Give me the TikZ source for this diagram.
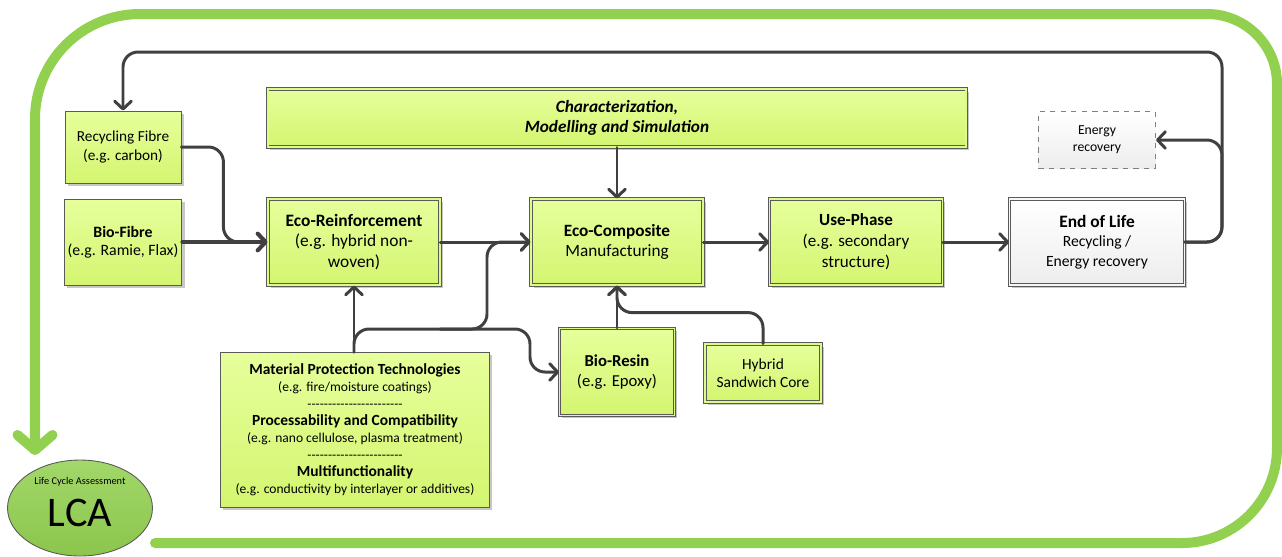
\documentclass[tikz,border=0pt]{standalone}
\usepackage{fontspec}
\setmainfont{Carlito}
\usetikzlibrary{arrows.meta, shapes.geometric, shadows}
\definecolor{lcagreen}{RGB}{146,208,80}
\definecolor{boxtop}{RGB}{230,255,155}
\definecolor{boxmid}{RGB}{221,252,135}
\definecolor{boxbot}{RGB}{212,245,112}
\definecolor{boxline}{RGB}{90,90,90}
\definecolor{connc}{RGB}{64,64,64}
\newcommand\sepdashes{\foreach \i in {1,...,23}{-\kern0pt}}
\begin{document}
\begin{tikzpicture}[x=0.02cm, y=-0.02cm,
    box/.style={draw=boxline, line width=0.5pt, top color=boxtop, bottom color=boxbot,
      align=center, inner sep=2pt, drop shadow={shadow xshift=1.5pt, shadow yshift=-1.5pt, fill=black, opacity=0.22}},
    dbox/.style={box, double=boxmid, double distance=1.1pt},
    conn/.style={draw=connc, line width=1.7pt, rounded corners=0.3cm, line cap=round,
      -{Straight Barb[length=4.5pt, width=9.5pt, round]}},
    lcaline/.style={draw=lcagreen, line width=5.7pt, line cap=round}]
  %tikz  ciclo di vita, eco-composito
  \useasboundingbox (0,0) rectangle (1282,556);
  % anello LCA
  \draw[lcaline] (155,543) [rounded corners=1.9cm] -- (1277,543) [rounded corners=1.4cm] -- (1277,14)
    [rounded corners=2.1cm] -- (35,14) -- (35,440);
  \draw[lcaline, -{Straight Barb[length=0.3cm, width=0.7cm, round]}] (35,430) -- (35,455);
  \node[ellipse, draw=boxline, line width=0.5pt, top color=lcagreen!85!white, bottom color=lcagreen!95!black,
    minimum width=2.9cm, minimum height=1.92cm] (lca) at (80,508) {};
  \node[font=\fontsize{5.9}{7}\selectfont, inner sep=0pt] (lcasub) at (80,482) {Life Cycle Assessment};
  \node[font=\fontsize{24}{24}\selectfont, inner sep=0pt] (lcatxt) at (80,513) {LCA};
  % nodi
  \node[box, minimum width=2.32cm, minimum height=1.44cm, font=\fontsize{8.7}{10.8}\selectfont] (recyc) at (123,147)
    {Recycling Fibre\\(e.g. carbon)};
  \node[box, minimum width=2.32cm, minimum height=1.72cm, font=\fontsize{9}{10.3}\selectfont] (biofib) at (123,242)
    {\textbf{Bio-Fibre}\\(e.g. Ramie, Flax)};
  \node[dbox, minimum width=3.44cm, minimum height=1.72cm, font=\fontsize{9.9}{11.9}\selectfont] (ecoreinf) at (354,242)
    {\textbf{Eco-Reinforcement}\\(e.g. hybrid non-\\woven)};
  \node[dbox, minimum width=13.98cm, minimum height=1.16cm, font=\fontsize{9.8}{11.4}\selectfont\bfseries\itshape] (charac) at (617,118)
    {Characterization,\\Modelling and Simulation};
  \node[dbox, minimum width=3.44cm, minimum height=1.72cm, font=\fontsize{9.8}{11.4}\selectfont] (ecocomp) at (617,242)
    {\textbf{Eco-Composite}\\Manufacturing};
  \node[dbox, minimum width=3.46cm, minimum height=1.72cm, font=\fontsize{9.7}{11.9}\selectfont] (usephase) at (856,242)
    {\textbf{Use-Phase}\\(e.g. secondary\\structure)};
  \node[dbox, top color=white, bottom color=gray!14, double=gray!6, minimum width=3.5cm, minimum height=1.72cm,
    font=\fontsize{8.9}{11}\selectfont] (eol) at (1097,242)
    {\fontsize{9.9}{11}\selectfont\textbf{End of Life}\\Recycling /\\Energy recovery};
  \node[draw=gray, dashed, line width=0.6pt, top color=white, bottom color=gray!14, minimum width=2.34cm,
    minimum height=1.14cm, align=center, font=\fontsize{7.8}{9.6}\selectfont] (energy) at (1097,140)
    {Energy\\recovery};
  \node[box, minimum width=5.38cm, minimum height=3.1cm, font=\fontsize{8.8}{9.7}\selectfont] (matprot) at (355,430)
    {\textbf{Material Protection Technologies}\\
     {\fontsize{7.7}{9.7}\selectfont (e.g. fire/moisture coatings)}\\
     {\fontsize{7.7}{9.7}\selectfont \sepdashes}\\
     \textbf{Processability and Compatibility}\\
     {\fontsize{7.7}{9.7}\selectfont (e.g. nano cellulose, plasma treatment)}\\
     {\fontsize{7.7}{9.7}\selectfont \sepdashes}\\
     \textbf{Multifunctionality}\\
     {\fontsize{7.7}{9.7}\selectfont (e.g. conductivity by interlayer or additives)}};
  \node[dbox, minimum width=2.3cm, minimum height=1.74cm, font=\fontsize{9.5}{11.4}\selectfont] (bioresin) at (617,372)
    {\textbf{Bio-Resin}\\(e.g. Epoxy)};
  \node[dbox, minimum width=2.32cm, minimum height=1.16cm, font=\fontsize{8.8}{10.2}\selectfont] (hybrid) at (763,373)
    {Hybrid\\Sandwich Core};
  % frecce
  \draw[conn] (recyc.east) -- ++(42,0) |- (ecoreinf.west);
  \draw[conn, line width=2.3pt] (biofib) -- (ecoreinf);
  \foreach \a/\b in {ecoreinf/ecocomp, ecocomp/usephase, usephase/eol}{
    \draw[conn] (\a) -- (\b);
  }
  \draw[conn] (charac.south -| ecocomp.north) -- (ecocomp.north);
  \draw[conn] (eol.east) -| ++(37,-50) |- (energy.east);
  \coordinate (loopNE) at (1222,52);
  \draw[conn] (eol.east) -| (loopNE) -| (recyc.north);
  \draw[conn] (ecoreinf.south |- matprot.north) -- (ecoreinf.south);
  \draw[conn] (ecoreinf.south |- matprot.north) |- (530,329) |- (bioresin.west);
  \coordinate (split) at (440,329);
  \draw[conn] (split) -- ++(47,0) |- (ecocomp.west);
  \draw[conn] (ecocomp.south |- bioresin.north) -- (ecocomp.south);
  \draw[conn] (hybrid.north) -- ++(0,-31) -| (ecocomp.south);
\end{tikzpicture}
\end{document}
